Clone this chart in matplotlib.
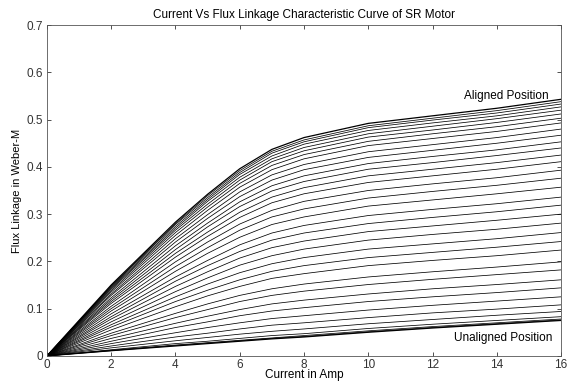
import matplotlib
matplotlib.use("Agg")
import matplotlib.pyplot as plt
from matplotlib.ticker import FuncFormatter

plt.rcParams['font.family'] = ['Liberation Sans', 'DejaVu Sans']

# current samples (A)
current = [0, 2, 4, 5, 6, 7, 8, 10, 12, 14, 16]

# flux linkage curves, aligned position first, unaligned position last
flux_curves = [
    [0, 0.150, 0.283, 0.342, 0.396, 0.437, 0.462, 0.492, 0.508, 0.524, 0.543],
    [0, 0.148, 0.280, 0.339, 0.392, 0.433, 0.457, 0.487, 0.503, 0.519, 0.538],
    [0, 0.147, 0.278, 0.335, 0.388, 0.429, 0.453, 0.483, 0.499, 0.514, 0.533],
    [0, 0.145, 0.274, 0.331, 0.384, 0.423, 0.448, 0.477, 0.493, 0.508, 0.527],
    [0, 0.143, 0.270, 0.327, 0.378, 0.417, 0.441, 0.470, 0.486, 0.502, 0.520],
    [0, 0.141, 0.266, 0.321, 0.372, 0.411, 0.434, 0.463, 0.478, 0.494, 0.512],
    [0, 0.138, 0.261, 0.315, 0.365, 0.403, 0.426, 0.454, 0.470, 0.485, 0.503],
    [0, 0.135, 0.255, 0.308, 0.357, 0.394, 0.417, 0.445, 0.460, 0.475, 0.493],
    [0, 0.131, 0.248, 0.299, 0.347, 0.383, 0.405, 0.432, 0.447, 0.462, 0.480],
    [0, 0.128, 0.241, 0.291, 0.337, 0.372, 0.394, 0.420, 0.435, 0.450, 0.467],
    [0, 0.123, 0.233, 0.281, 0.326, 0.360, 0.381, 0.407, 0.422, 0.436, 0.453],
    [0, 0.119, 0.225, 0.273, 0.316, 0.349, 0.369, 0.395, 0.409, 0.424, 0.440],
    [0, 0.115, 0.217, 0.262, 0.304, 0.336, 0.356, 0.381, 0.395, 0.409, 0.425],
    [0, 0.111, 0.209, 0.253, 0.293, 0.324, 0.343, 0.367, 0.381, 0.395, 0.411],
    [0, 0.105, 0.199, 0.241, 0.279, 0.308, 0.327, 0.350, 0.364, 0.377, 0.393],
    [0, 0.100, 0.189, 0.229, 0.266, 0.294, 0.311, 0.334, 0.348, 0.361, 0.376],
    [0, 0.095, 0.179, 0.217, 0.251, 0.278, 0.294, 0.317, 0.330, 0.343, 0.357],
    [0, 0.089, 0.167, 0.202, 0.235, 0.260, 0.276, 0.297, 0.310, 0.322, 0.336],
    [0, 0.083, 0.158, 0.191, 0.221, 0.245, 0.260, 0.280, 0.293, 0.305, 0.319],
    [0, 0.078, 0.147, 0.178, 0.207, 0.229, 0.243, 0.263, 0.275, 0.287, 0.300],
    [0, 0.072, 0.136, 0.165, 0.192, 0.212, 0.226, 0.245, 0.257, 0.268, 0.281],
    [0, 0.066, 0.125, 0.152, 0.176, 0.195, 0.208, 0.226, 0.237, 0.248, 0.261],
    [0, 0.061, 0.115, 0.139, 0.161, 0.179, 0.191, 0.208, 0.219, 0.230, 0.242],
    [0, 0.055, 0.104, 0.127, 0.147, 0.164, 0.174, 0.191, 0.202, 0.212, 0.224],
    [0, 0.048, 0.090, 0.110, 0.128, 0.142, 0.152, 0.167, 0.178, 0.188, 0.199],
    [0, 0.043, 0.081, 0.098, 0.115, 0.128, 0.137, 0.151, 0.162, 0.172, 0.182],
    [0, 0.037, 0.069, 0.084, 0.098, 0.110, 0.118, 0.131, 0.142, 0.151, 0.161],
    [0, 0.031, 0.060, 0.072, 0.085, 0.095, 0.102, 0.115, 0.125, 0.134, 0.144],
    [0, 0.026, 0.049, 0.060, 0.070, 0.079, 0.085, 0.097, 0.107, 0.116, 0.125],
    [0, 0.021, 0.040, 0.048, 0.057, 0.065, 0.070, 0.081, 0.091, 0.099, 0.108],
    [0, 0.017, 0.032, 0.039, 0.046, 0.052, 0.057, 0.068, 0.077, 0.086, 0.094],
    [0, 0.013, 0.026, 0.031, 0.037, 0.043, 0.047, 0.058, 0.067, 0.075, 0.083],
    [0, 0.012, 0.023, 0.028, 0.033, 0.038, 0.043, 0.053, 0.062, 0.070, 0.078],
    [0, 0.011, 0.022, 0.027, 0.032, 0.037, 0.041, 0.051, 0.060, 0.068, 0.076],
    [0, 0.011, 0.021, 0.026, 0.031, 0.036, 0.040, 0.050, 0.059, 0.067, 0.075],
]

x_ticks = [0, 2, 4, 6, 8, 10, 12, 14, 16]
y_ticks = [0, 0.1, 0.2, 0.3, 0.4, 0.5, 0.6, 0.7]

fig = plt.figure(figsize=(5.72, 3.86), dpi=100)
ax = fig.add_axes([0.082, 0.078, 0.899, 0.857])

for k, psi in enumerate(flux_curves):
    lw = 0.9 if k in (0, len(flux_curves) - 1) else 0.55
    ax.plot(current, psi, color='black', linewidth=lw)

ax.set_xlim(0, 16)
ax.set_ylim(0, 0.7)
ax.set_xticks(x_ticks)
ax.set_yticks(y_ticks)
ax.yaxis.set_major_formatter(FuncFormatter(lambda v, p: '0' if v == 0 else f'{v:g}'))
ax.tick_params(direction='in', top=True, right=True, length=3, width=0.6,
               labelsize=8.5, colors='#333333', pad=2)
ax.tick_params(axis='y', pad=3)
for s in ax.spines.values():
    s.set_linewidth(0.6)
    s.set_color('#555555')

ax.set_title('Current Vs Flux Linkage Characteristic Curve of SR Motor', fontsize=8.5, pad=5)
ax.set_xlabel('Current in Amp', fontsize=8.5, labelpad=-1)
ax.set_ylabel('Flux Linkage in Weber-M', fontsize=8, labelpad=3)

ax.text(14.28, 0.549, 'Aligned Position', fontsize=8.5, ha='center', va='center')
ax.text(14.2, 0.038, 'Unaligned Position', fontsize=8.5, ha='center', va='center')

fig.savefig('out.png', dpi=100)
